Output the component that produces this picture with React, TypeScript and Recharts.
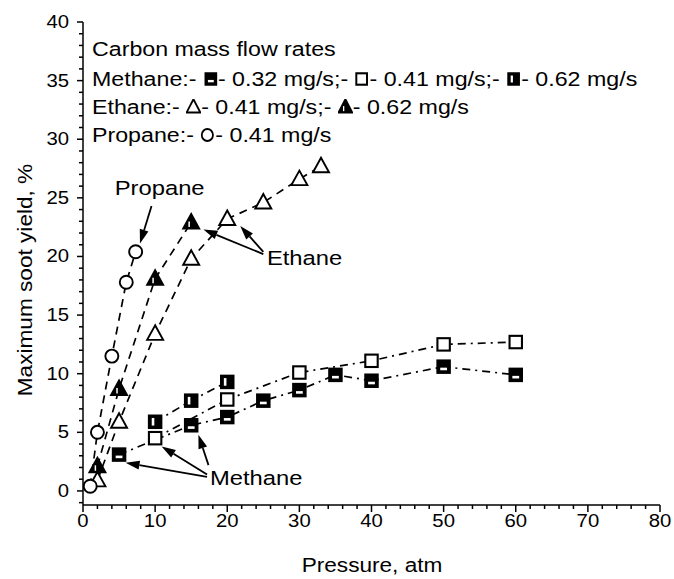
import React from 'react';
import { ScatterChart, Scatter, XAxis, YAxis, ReferenceLine, ReferenceDot } from 'recharts';

const FONT = '"Liberation Sans", Arial, Helvetica, sans-serif';
const STRETCH = 1.16; // the original lettering is wider than Arial

// pressure (atm) -> maximum soot yield (%)
const methane032X = [5, 15, 20, 25, 30, 35, 40, 50, 60];
const methane032Y = [3.1, 5.6, 6.3, 7.7, 8.6, 9.9, 9.4, 10.6, 9.9];
const methane041X = [10, 20, 30, 40, 50, 60];
const methane041Y = [4.5, 7.8, 10.1, 11.1, 12.5, 12.7];
const methane062X = [10, 15, 20];
const methane062Y = [5.9, 7.7, 9.3];
const ethane041X = [2, 5, 10, 15, 20, 25, 30, 33];
const ethane041Y = [0.9, 5.9, 13.4, 19.8, 23.2, 24.6, 26.6, 27.7];
const ethane062X = [2, 5, 10, 15];
const ethane062Y = [2.1, 8.7, 18.1, 22.9];
const propaneX = [1, 2, 4, 6, 7.3];
const propaneY = [0.4, 5.0, 11.5, 17.8, 20.4];

const xMajorTicks = [0, 10, 20, 30, 40, 50, 60, 70, 80];
const yMajorTicks = [0, 5, 10, 15, 20, 25, 30, 35, 40];
const xTicks: number[] = [];
for (let v = 0; v <= 80; v += 2) xTicks.push(v);
const yTicks: number[] = [];
for (let v = -1; v <= 40; v += 1) yTicks.push(v);

const toPoints = (xs: number[], ys: number[]) => xs.map((x, i) => ({ x, y: ys[i] }));

const DASH = '8 6';
const DASH_DOT = '8 5 2 5';

// ---- axis ticks (major + minor) ----
const tickText = (x: number, y: number, anchor: string, v: any) => (
  <text
    transform={`translate(${x},${y}) scale(${STRETCH},1)`}
    textAnchor={anchor}
    dominantBaseline="central"
    fontSize={17.5}
    fontFamily={FONT}
    fill="#000"
  >
    {v}
  </text>
);

const BottomTick = (p: any) => {
  const major = xMajorTicks.includes(p.payload.value);
  return (
    <g>
      <line x1={p.x} x2={p.x} y1={p.y} y2={p.y + (major ? 7 : 4)} stroke="#000" strokeWidth={1.5} />
      {major && tickText(p.x, p.y + 16, 'middle', p.payload.value)}
    </g>
  );
};

const LeftTick = (p: any) => {
  const major = yMajorTicks.includes(p.payload.value);
  return (
    <g>
      <line x1={p.x - (major ? 6 : 4)} x2={p.x} y1={p.y} y2={p.y} stroke="#000" strokeWidth={1.5} />
      {major && tickText(p.x - 14, p.y, 'end', p.payload.value)}
    </g>
  );
};

const TopTick = (p: any) => {
  const major = xMajorTicks.includes(p.payload.value);
  return <line x1={p.x} x2={p.x} y1={p.y} y2={p.y + (major ? 6 : 3.5)} stroke="#000" strokeWidth={1.5} />;
};

const RightTick = (p: any) => {
  const major = yMajorTicks.includes(p.payload.value);
  return <line x1={p.x - (major ? 6 : 3.5)} x2={p.x} y1={p.y} y2={p.y} stroke="#000" strokeWidth={1.5} />;
};

// ---- markers ----
type Kind = 'sqOpen' | 'sqBar' | 'sqHalf' | 'triOpen' | 'triFill' | 'circle';

const Marker = ({ cx, cy, kind, s = 1 }: { cx: number; cy: number; kind: Kind; s?: number }) => {
  const h = 6.2 * s;
  if (kind === 'circle') {
    return <circle cx={cx} cy={cy} r={6.5 * s} fill="#fff" stroke="#000" strokeWidth={1.9} />;
  }
  if (kind === 'triOpen' || kind === 'triFill') {
    const pts = `${cx},${cy - 8.5 * s} ${cx - 8 * s},${cy + 6 * s} ${cx + 8 * s},${cy + 6 * s}`;
    return (
      <g>
        <polygon points={pts} fill={kind === 'triFill' ? '#000' : '#fff'} stroke="#000" strokeWidth={1.9} strokeLinejoin="miter" />
        {kind === 'triFill' && (
          <rect x={cx - 2.8 * s} y={cy - 1 * s} width={1.5 * s} height={5.5 * s} fill="#fff" />
        )}
      </g>
    );
  }
  return (
    <g>
      <rect x={cx - h} y={cy - h} width={2 * h} height={2 * h} fill={kind === 'sqOpen' ? '#fff' : '#000'} stroke="#000" strokeWidth={2.1} />
      {kind === 'sqBar' && <rect x={cx - 3.4 * s} y={cy + 1 * s} width={6.8 * s} height={2.6 * s} fill="#fff" />}
      {kind === 'sqHalf' && <rect x={cx - 3.4 * s} y={cy - 3.8 * s} width={2.6 * s} height={7.6 * s} fill="#fff" />}
    </g>
  );
};

const shapeOf = (kind: Kind) => (p: any) => <Marker cx={p.cx} cy={p.cy} kind={kind} />;

// ---- annotations ----
const Arrow = (p: any) => {
  const { x1, y1, x2, y2 } = p;
  const a = Math.atan2(y2 - y1, x2 - x1);
  const L = 14;
  const W = 4.5;
  const bx = x2 - L * Math.cos(a);
  const by = y2 - L * Math.sin(a);
  const nx = -Math.sin(a) * W;
  const ny = Math.cos(a) * W;
  return (
    <g>
      <line x1={x1} y1={y1} x2={bx} y2={by} stroke="#000" strokeWidth={1.8} />
      <polygon points={`${x2},${y2} ${bx + nx},${by + ny} ${bx - nx},${by - ny}`} fill="#000" />
    </g>
  );
};

const textShape = (label: string) => (p: any) => (
  <text
    transform={`translate(${p.cx},${p.cy}) scale(${STRETCH},1)`}
    dominantBaseline="central"
    fontSize={20.5}
    fontFamily={FONT}
    fill="#000"
  >
    {label}
  </text>
);

const arrows = [
  { from: { x: 9.5, y: 24.3 }, to: { x: 7.9, y: 21.1 } },
  { from: { x: 25.0, y: 20.2 }, to: { x: 16.7, y: 22.3 } },
  { from: { x: 25.0, y: 20.4 }, to: { x: 21.8, y: 22.6 } },
  { from: { x: 17.2, y: 1.2 }, to: { x: 5.9, y: 2.4 } },
  { from: { x: 17.2, y: 1.4 }, to: { x: 10.9, y: 3.8 } },
  { from: { x: 17.4, y: 2.2 }, to: { x: 16.0, y: 4.8 } },
];
const notes = [
  { x: 4.4, y: 25.8, text: 'Propane' },
  { x: 25.5, y: 19.9, text: 'Ethane' },
  { x: 17.6, y: 1.1, text: 'Methane' },
];

// ---- legend (HTML overlay) ----
const LegendMark = ({ kind }: { kind: Kind }) => (
  <svg width={15 / STRETCH} height={16} viewBox="0 0 16 16" preserveAspectRatio="none" style={{ verticalAlign: '-1px' }}>
    <Marker cx={8} cy={8} kind={kind} s={0.92} />
  </svg>
);

const legendRow = (top: number, children: React.ReactNode) => (
  <div
    style={{
      position: 'absolute',
      left: 92,
      top: top - 12,
      height: 24,
      lineHeight: '24px',
      fontSize: 20,
      fontFamily: FONT,
      whiteSpace: 'nowrap',
      transform: `scaleX(${STRETCH})`,
      transformOrigin: 'left center',
      color: '#000',
    }}
  >
    {children}
  </div>
);

export default function App() {
  return (
    <div style={{ position: 'absolute', left: 0, top: 0, width: 674, height: 579, background: '#fff' }}>
      <ScatterChart width={674} height={579} margin={{ top: 22, right: 14, bottom: 0, left: 0 }}>
        <XAxis
          dataKey="x"
          type="number"
          domain={[0, 80]}
          ticks={xTicks}
          interval={0}
          height={74}
          tickSize={0}
          tickMargin={0}
          tick={BottomTick}
          axisLine={{ stroke: '#000', strokeWidth: 1.5 }}
          tickLine={false}
          allowDataOverflow
        />
        <XAxis
          xAxisId="top"
          orientation="top"
          type="number"
          domain={[0, 80]}
          ticks={xTicks}
          interval={0}
          height={0}
          tickSize={0}
          tickMargin={0}
          tick={TopTick}
          axisLine={{ stroke: '#000', strokeWidth: 1.5 }}
          tickLine={false}
        />
        <YAxis
          dataKey="y"
          type="number"
          domain={[-1.2, 40]}
          ticks={yTicks}
          interval={0}
          width={83}
          tickSize={0}
          tickMargin={0}
          tick={LeftTick}
          axisLine={{ stroke: '#000', strokeWidth: 1.5 }}
          tickLine={false}
          allowDataOverflow
        />
        <YAxis
          yAxisId="right"
          orientation="right"
          type="number"
          domain={[-1.2, 40]}
          ticks={yTicks}
          interval={0}
          width={0}
          tickSize={0}
          tickMargin={0}
          tick={RightTick}
          axisLine={{ stroke: '#000', strokeWidth: 1.5 }}
          tickLine={false}
        />

        <Scatter data={toPoints(methane032X, methane032Y)} line={{ stroke: '#000', strokeWidth: 1.7, strokeDasharray: DASH_DOT }} shape={shapeOf('sqBar')} isAnimationActive={false} />
        <Scatter data={toPoints(methane041X, methane041Y)} line={{ stroke: '#000', strokeWidth: 1.7, strokeDasharray: DASH_DOT }} shape={shapeOf('sqOpen')} isAnimationActive={false} />
        <Scatter data={toPoints(methane062X, methane062Y)} line={{ stroke: '#000', strokeWidth: 1.7, strokeDasharray: DASH_DOT }} shape={shapeOf('sqHalf')} isAnimationActive={false} />
        <Scatter data={toPoints(ethane041X, ethane041Y)} line={{ stroke: '#000', strokeWidth: 1.7, strokeDasharray: DASH }} shape={shapeOf('triOpen')} isAnimationActive={false} />
        <Scatter data={toPoints(ethane062X, ethane062Y)} line={{ stroke: '#000', strokeWidth: 1.7, strokeDasharray: DASH }} shape={shapeOf('triFill')} isAnimationActive={false} />
        <Scatter data={toPoints(propaneX, propaneY)} line={{ stroke: '#000', strokeWidth: 1.7, strokeDasharray: DASH }} shape={shapeOf('circle')} isAnimationActive={false} />

        {arrows.map((a, i) => (
          <ReferenceLine key={`arr-${i}`} segment={[a.from, a.to]} shape={Arrow} ifOverflow="visible" />
        ))}
        {notes.map((n) => (
          <ReferenceDot key={n.text} x={n.x} y={n.y} r={1} shape={textShape(n.text)} ifOverflow="visible" />
        ))}
      </ScatterChart>

      {legendRow(49, 'Carbon mass flow rates')}
      {legendRow(79, (
        <>
          Methane:- <LegendMark kind="sqBar" />- 0.32 mg/s;- <LegendMark kind="sqOpen" />- 0.41 mg/s;- <LegendMark kind="sqHalf" />- 0.62 mg/s
        </>
      ))}
      {legendRow(107, (
        <>
          Ethane:- <LegendMark kind="triOpen" />- 0.41 mg/s;- <LegendMark kind="triFill" />- 0.62 mg/s
        </>
      ))}
      {legendRow(135, (
        <>
          Propane:- <LegendMark kind="circle" />- 0.41 mg/s
        </>
      ))}

      <svg width={674} height={579} style={{ position: 'absolute', left: 0, top: 0, pointerEvents: 'none' }}>
        <text
          transform={`translate(25,280) rotate(-90) scale(${STRETCH},1)`}
          textAnchor="middle"
          dominantBaseline="central"
          fontSize={19.5}
          fontFamily={FONT}
          fill="#000"
        >
          Maximum soot yield, %
        </text>
        <text
          transform={`translate(372,565) scale(${STRETCH},1)`}
          textAnchor="middle"
          dominantBaseline="central"
          fontSize={19.5}
          fontFamily={FONT}
          fill="#000"
        >
          Pressure, atm
        </text>
      </svg>
    </div>
  );
}
